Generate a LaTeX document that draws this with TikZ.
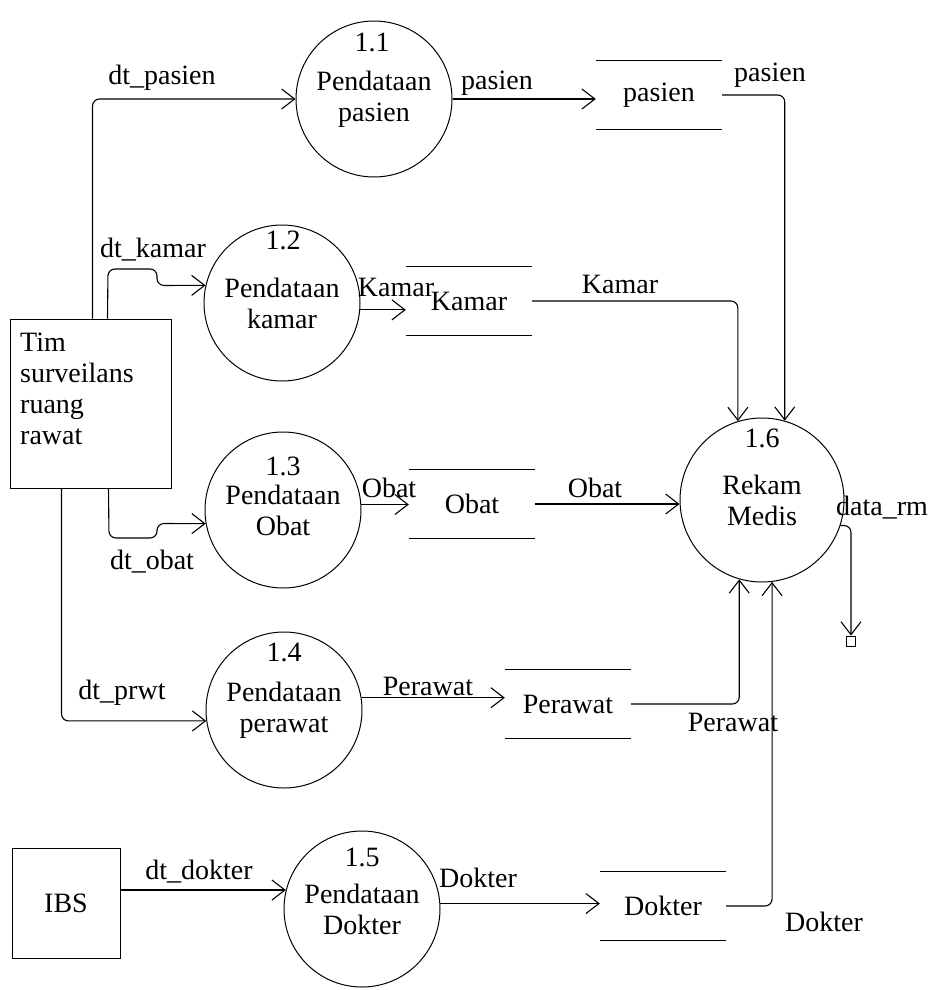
\documentclass[tikz,border=0pt]{standalone}
\usepackage{fontspec}
\setmainfont{Liberation Serif}
\usetikzlibrary{arrows.meta,calc}
\begin{document}
\begin{tikzpicture}[x=1pt,y=-1pt,
  every node/.style={font=\fontsize{28}{31}\selectfont},
  flow/.style={line width=1.1pt, -{Straight Barb[length=13pt,width=20pt,line width=1.1pt]}, rounded corners=7pt},
  proc/.style={draw, circle, line width=1pt, minimum size=156pt, inner sep=0pt, align=center},
  ent/.style={draw, rectangle, line width=1pt, inner sep=0pt},
  store/.style={minimum width=126pt, minimum height=68pt, inner sep=0pt},
  storeline/.style={line width=1.1pt},
  lbl/.style={inner sep=0pt}
]
\useasboundingbox (0,0) rectangle (941,990);

% processes
\node[proc] (p11) at (374,99) {Pendataan\\pasien};
\node[proc] (p12) at (282,303) {Pendataan\\kamar};
\node[proc] (p13) at (283,510) {Pendataan\\Obat};
\node[proc] (p14) at (284,710) {Pendataan\\perawat};
\node[proc] (p15) at (362,909) {Pendataan\\Dokter};
\node[proc, minimum size=164pt] (p16) at (762,500) {Rekam\\Medis};

\node[lbl] (n11) at (372,42) {1.1};
\node[lbl] (n12) at (283,240) {1.2};
\node[lbl] (n13) at (283,466) {1.3};
\node[lbl] (n14) at (284,652) {1.4};
\node[lbl] (n15) at (362,857) {1.5};
\node[lbl] (n16) at (762,438) {1.6};

% data stores
\node[store] (sp) at (659,95) {pasien};
\node[store] (sk) at (469,301) {Kamar};
\node[store] (so) at (472,504) {Obat};
\node[store] (sr) at (568,704) {Perawat};
\node[store] (sd) at (663,906) {Dokter};
\foreach \s in {sp,sk,so,sr,sd}
  \draw[storeline] (\s.north west) -- (\s.north east) (\s.south west) -- (\s.south east);

% external entities
\node[ent, minimum width=161pt, minimum height=169pt] (tim) at (90.5,403.5) {};
\node[lbl, anchor=north west, align=left] (timtext) at (20,333) {Tim\\surveilans\\ruang\\rawat};
\node[ent, minimum width=108pt, minimum height=110pt] (ibs) at (66,903) {IBS};
\node[draw, line width=0.8pt, minimum width=9pt, minimum height=10pt, inner sep=0pt] (sink) at (851,641) {};

% flows from the entities
\draw[flow] ($(tim.north west)+(83,0)$) |- (p11.west);
\draw[flow] ($(tim.north west)+(98,0)$) -- (108,269) -- (157,269) -- (157,285.5) -- (p12.167);
\draw[flow] ($(tim.south west)+(99,0)$) -- (109,538) -- (157,538) -- (157,523.5) -- (p13.190);
\draw[flow] ($(tim.south west)+(52,0)$) |- (p14.188);
\draw[flow] (ibs.east |- p15.166) -- (p15.166);

% flows into the stores
\draw[flow] (p11.east) -- (p11.east -| sp.west);
\draw[flow] (p12.355) -- (p12.355 -| sk.west);
\draw[flow] (p13.4) -- (p13.4 -| so.west);
\draw[flow] (p14.9) -- (p14.9 -| sr.west);
\draw[flow] (p15.4) -- (p15.4 -| sd.west);

% flows into Rekam Medis
\draw[flow] (sp.east) -| (p16.74);
\draw[flow] (sk.east) -| (p16.107);
\draw[flow] (so.east) -- (p16.west |- so.east);
\draw[flow] (sr.east) -| (p16.254);
\draw[flow] (sd.east) -| (p16.277);
\draw[flow] (p16.342) -| (sink.north);

% flow labels
\node[lbl] (l1) at (162,78) {dt\_pasien};
\node[lbl] (l2) at (153,250) {dt\_kamar};
\node[lbl] (l3) at (152,562) {dt\_obat};
\node[lbl] (l4) at (122,693) {dt\_prwt};
\node[lbl] (l5) at (199,872) {dt\_dokter};
\node[lbl] (l6) at (497,83) {pasien};
\node[lbl] (l7) at (770,75) {pasien};
\node[lbl] (l8) at (396,287) {Kamar};
\node[lbl] (l9) at (620,284) {Kamar};
\node[lbl] (l10) at (389,488) {Obat};
\node[lbl] (l11) at (595,488) {Obat};
\node[lbl] (l12) at (428,686) {Perawat};
\node[lbl] (l13) at (733,722) {Perawat};
\node[lbl] (l14) at (478,878) {Dokter};
\node[lbl] (l15) at (824,922) {Dokter};
\node[lbl] (l16) at (882,508) {data\_rm};
\end{tikzpicture}
\end{document}
